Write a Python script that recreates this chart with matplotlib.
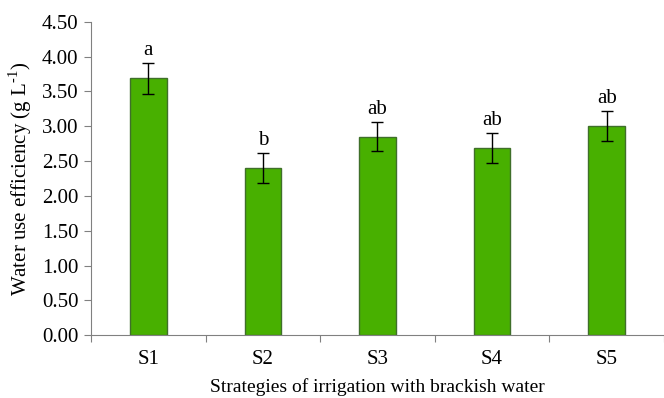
import numpy as np
import matplotlib.pyplot as plt

strategies = ["S1", "S2", "S3", "S4", "S5"]
wue = [3.69, 2.40, 2.85, 2.69, 3.01]
wue_err = [0.22, 0.22, 0.21, 0.22, 0.215]
letters = ["a", "b", "ab", "ab", "ab"]

plt.rcParams["font.family"] = ["Liberation Serif", "DejaVu Serif"]
plt.rcParams["mathtext.fontset"] = "custom"
plt.rcParams["mathtext.rm"] = "Liberation Serif"

fig = plt.figure(figsize=(6.64, 3.98), dpi=100)
ax = fig.add_axes([0.137, 0.158, 0.863, 0.787])

x = np.arange(len(strategies))
ax.bar(x, wue, width=0.32, color="#48B000", edgecolor="#3f6f2a", linewidth=1.0,
       yerr=wue_err, error_kw=dict(ecolor="black", elinewidth=1.0, capsize=4, capthick=1.0))

for xi, v, e, lab in zip(x, wue, wue_err, letters):
    ax.text(xi, v + e + 0.04, lab, ha="center", va="bottom", fontsize=15)

ax.set_xlim(-0.5, 4.5)
ax.set_ylim(0, 4.5)
ticks = np.arange(0, 4.51, 0.5)
ax.set_yticks(ticks)
ax.set_yticklabels([f"{t:.2f}" for t in ticks], fontsize=15)

# category boundary ticks, labels centred
ax.set_xticks(np.arange(-0.5, 4.6, 1.0))
ax.set_xticklabels([])
ax.set_xticks(x, minor=True)
ax.set_xticklabels(strategies, minor=True, fontsize=15)
ax.tick_params(axis="x", which="minor", length=0, pad=11)
ax.tick_params(axis="x", which="major", length=5, color="#808080")
ax.tick_params(axis="y", length=5, color="#808080", pad=4)

for s in ["top", "right"]:
    ax.spines[s].set_visible(False)
ax.spines["left"].set_color("#808080")
ax.spines["bottom"].set_color("#808080")

ax.set_xlabel("Strategies of irrigation with brackish water", fontsize=14, labelpad=6)
ax.set_ylabel(r"Water use efficiency (g L$^{\text{-1}}$)", fontsize=15, labelpad=6)

fig.savefig("out.png", dpi=100)
